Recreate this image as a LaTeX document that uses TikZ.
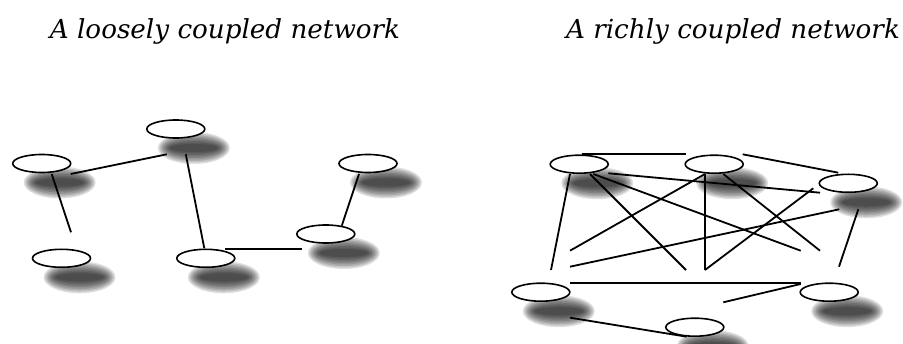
\documentclass[tikz,border=0pt]{standalone}
\usepackage{fontspec}
\setmainfont{DejaVu Serif}
\usetikzlibrary{calc,shapes.geometric}
\tikzset{
  net/.style={draw=black, line width=1.6pt, fill=white, ellipse, minimum width=58pt, minimum height=18pt, inner sep=0pt},
  link/.style={draw=black, line width=1.8pt},
  title/.style={font=\fontsize{26.2}{31}\selectfont\itshape, anchor=base, inner sep=0pt}
}
\newcommand\dropshadow[1]{%
  \foreach \s in {7,5.5,4,2.5,1,-0.5,-2,-3.5,-5}{%
    \fill[black, opacity=0.125] ($(#1)+(18,19)$) ellipse[x radius=29pt+\s pt, y radius=9pt+\s pt];
  }%
}
\begin{document}
\begin{tikzpicture}[x=1pt, y=-1pt]
\useasboundingbox (0,0) rectangle (903,344);
% titles
\node[title] (t1) at (225,38.3) {A loosely coupled network};
\node[title] (t2) at (733,38.3) {A richly coupled network};
% node positions
\coordinate (A) at (41.7,163.5);
\coordinate (B) at (175.8,129);
\coordinate (C) at (61.5,258.3);
\coordinate (D) at (205.8,258.3);
\coordinate (E) at (368,163.5);
\coordinate (F) at (325.8,234);
\coordinate (G) at (579.2,164.2);
\coordinate (H) at (714.2,164.2);
\coordinate (I) at (848.3,183.3);
\coordinate (J) at (540.8,292.2);
\coordinate (K) at (829.2,292.2);
\coordinate (L) at (694.8,327.2);
% shadows
\foreach \n in {A,B,C,D,E,F,G,H,I,J,K,L}{\dropshadow{\n}}
% links (left)
\draw[link] ($(A)+(29,10.5)$) -- ($(B)+(-9,25.3)$);
\draw[link] ($(A)+(10,10.5)$) -- ($(C)+(9.5,-26)$);
\draw[link] ($(B)+(10,25.3)$) -- ($(D)+(-1.5,-10)$);
\draw[link] ($(D)+(19.2,-9.3)$) -- ($(F)+(-23.5,15)$);
\draw[link] ($(F)+(16,-8.3)$) -- ($(E)+(-9,10.5)$);
% links (right)
\draw[link] ($(G)+(2.5,-9.9)$) -- ($(H)+(-28.2,-9.9)$);
\draw[link] ($(H)+(28.5,-9.9)$) -- ($(I)+(-10,-10.6)$);
\draw[link] ($(G)+(29.1,9.1)$) -- ($(I)+(-28.3,9.4)$);
\draw[link] ($(G)+(-9.2,9.8)$) -- ($(J)+(10.2,-22.2)$);
\draw[link] ($(G)+(10.8,9.8)$) -- ($(L)+(-8.8,-57.2)$);
\draw[link] ($(G)+(14.1,9.8)$) -- ($(K)+(-28.5,-41.5)$);
\draw[link] ($(H)+(-9.2,9.8)$) -- ($(J)+(29.2,-41.5)$);
\draw[link] ($(H)+(-9.2,9.8)$) -- ($(H)+(-9.2,105.8)$);
\draw[link] ($(H)+(9.1,9.8)$) -- ($(K)+(-9.2,-41.5)$);
\draw[link] ($(I)+(-35,5)$) -- ($(L)+(10.2,-57.2)$);
\draw[link] ($(I)+(-9,26)$) -- ($(J)+(29.2,-25.5)$);
\draw[link] ($(I)+(10,26)$) -- ($(K)+(9.8,-25.5)$);
\draw[link] ($(J)+(29.2,-9.5)$) -- ($(K)+(-28.5,-9.5)$);
\draw[link] ($(K)+(-28.5,-8.2)$) -- ($(L)+(28.5,-24.9)$);
\draw[link] ($(J)+(29.2,25.5)$) -- ($(L)+(-8.1,9.5)$);
% nodes
\foreach \n in {A,B,C,D,E,F,G,H,I,J,K,L}{\node[net] (n\n) at (\n) {};}
\end{tikzpicture}
\end{document}
